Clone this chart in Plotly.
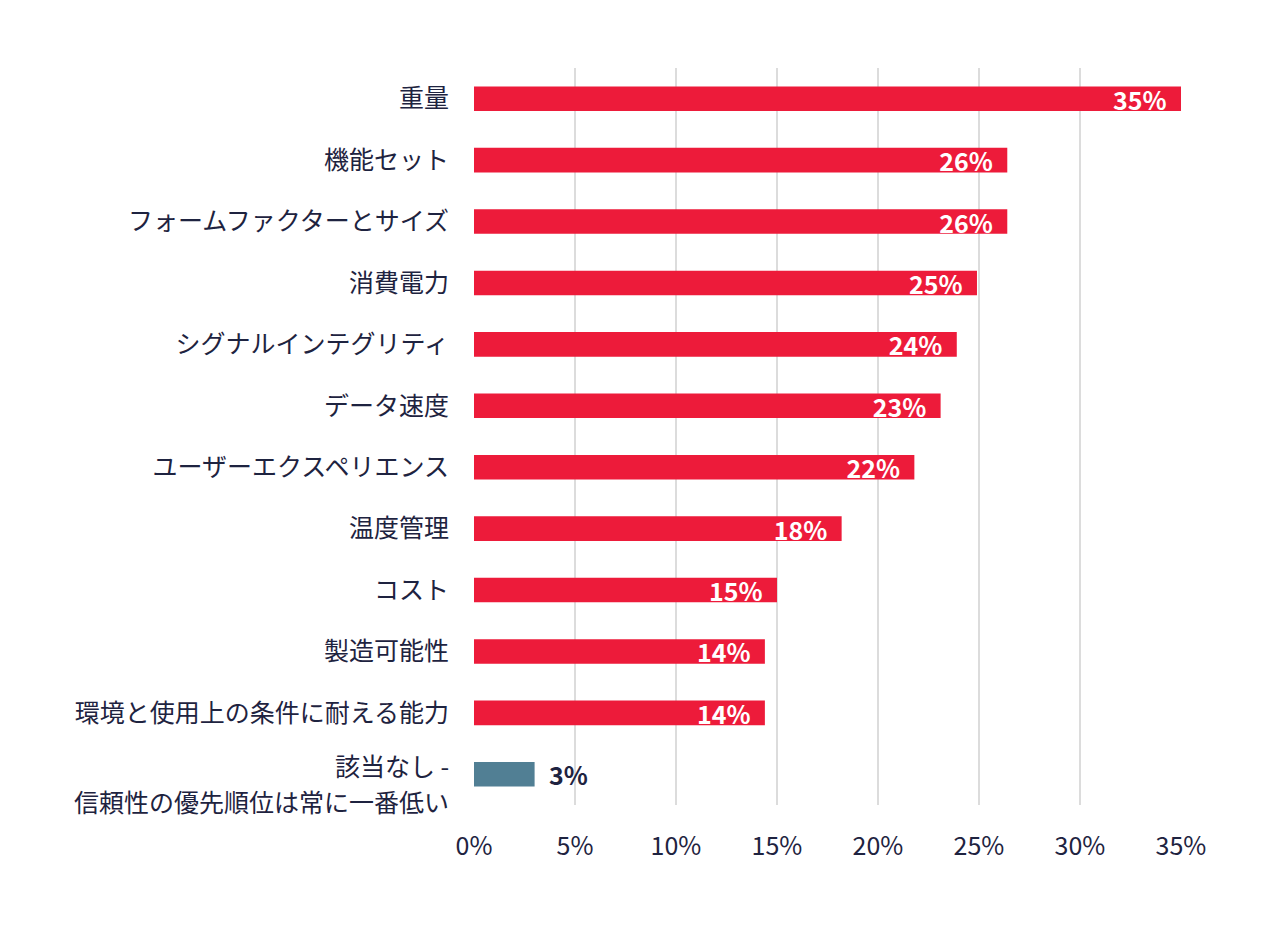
import plotly.graph_objects as go

# 項目 (上から順)
categories = [
    "重量",
    "機能セット",
    "フォームファクターとサイズ",
    "消費電力",
    "シグナルインテグリティ",
    "データ速度",
    "ユーザーエクスペリエンス",
    "温度管理",
    "コスト",
    "製造可能性",
    "環境と使用上の条件に耐える能力",
    "該当なし - 信頼性の優先順位は常に一番低い",
]
# the last category label is drawn in two lines
last_label_lines = ["該当なし -", "信頼性の優先順位は常に一番低い"]
values = [35.0, 26.4, 26.4, 24.9, 23.9, 23.1, 21.8, 18.2, 15.0, 14.4, 14.4, 3.0]
labels = ["35%", "26%", "26%", "25%", "24%", "23%", "22%", "18%", "15%", "14%", "14%", "3%"]
tick_vals = [0, 5, 10, 15, 20, 25, 30, 35]
tick_text = ["0%", "5%", "10%", "15%", "20%", "25%", "30%", "35%"]

red = "#ED1B3A"
slate = "#517F94"
navy = "#1E2340"
font = "'Noto Sans CJK JP', sans-serif"

colors = [red] * (len(values) - 1) + [slate]
text = [t + "\u00a0\u00a0" for t in labels[:-1]] + ["\u00a0\u00a0" + labels[-1]]
positions = ["inside"] * (len(values) - 1) + ["outside"]
text_colors = ["white"] * (len(values) - 1) + [navy]

fig = go.Figure(
    go.Bar(
        x=values,
        y=categories,
        orientation="h",
        marker=dict(color=colors, line=dict(width=0)),
        width=0.4,
        text=text,
        textposition=positions,
        insidetextanchor="end",
        constraintext="none",
        cliponaxis=False,
        textfont=dict(family=font, size=25, color=text_colors, weight="bold"),
        hoverinfo="skip",
    )
)

# two-line label for the last bar, placed a little below its bar centre
for line, shift in zip(last_label_lines, [9, -27]):
    fig.add_annotation(
        x=0, xref="paper", xanchor="right", xshift=-24,
        y=categories[-1], yref="y", yanchor="middle", yshift=shift,
        text=line, showarrow=False, borderpad=0,
        font=dict(family=font, size=25, color=navy),
    )

# the page body has an 8px margin, so the figure is a bit smaller than the window
fig.update_layout(
    width=1264,
    height=912,
    margin=dict(l=466, r=91, t=60, b=115),
    plot_bgcolor="white",
    paper_bgcolor="white",
    showlegend=False,
    font=dict(family=font, color=navy, size=25),
    bargap=0.6,
)

fig.update_xaxes(
    range=[0, 35],
    tickvals=tick_vals,
    ticktext=tick_text,
    showgrid=True,
    gridcolor="#DCDCDC",
    gridwidth=2,
    zeroline=False,
    showline=False,
    ticks="",
    ticklabelstandoff=24,
    tickfont=dict(size=25, color=navy),
)

fig.update_yaxes(
    autorange="reversed",
    tickvals=categories,
    ticktext=categories[:-1] + [""],
    showgrid=False,
    showline=False,
    ticks="",
    ticklabelstandoff=24,
    tickfont=dict(size=25, color=navy),
)

fig.write_html("out.html")
